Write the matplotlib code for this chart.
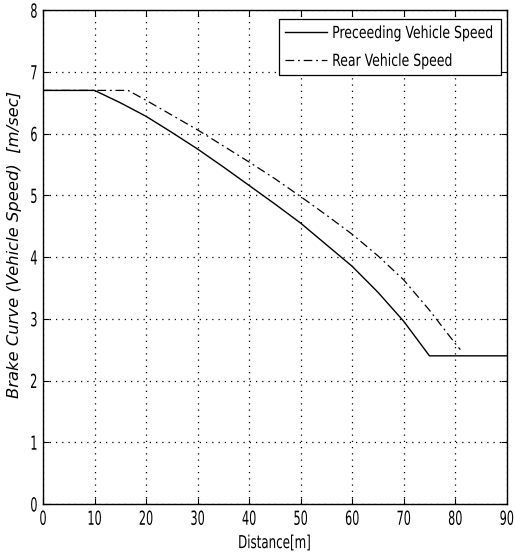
import matplotlib.pyplot as plt
from matplotlib import font_manager
from matplotlib.patheffects import AbstractPathEffect
from matplotlib.transforms import Affine2D

# distance [m] and speed [m/sec]
x_pre = [0, 10, 15, 20, 25, 30, 35, 40, 45, 50, 55, 60, 65, 70, 75, 90]
v_pre = [6.7, 6.7, 6.5, 6.28, 6.02, 5.75, 5.46, 5.16, 4.86, 4.55, 4.2, 3.85, 3.43, 2.96, 2.4, 2.4]

x_rear = [0, 16.5, 20, 25, 30, 35, 40, 45, 50, 55, 60, 65, 70, 75, 80, 81]
v_rear = [6.7, 6.7, 6.54, 6.3, 6.06, 5.8, 5.54, 5.27, 4.98, 4.68, 4.37, 4.02, 3.63, 3.14, 2.6, 2.5]

xticks = list(range(0, 91, 10))
yticks = list(range(0, 9))


class Tall(AbstractPathEffect):
    # stretch glyphs vertically around mid cap height, to get the tall narrow look
    def __init__(self, sy):
        super().__init__()
        self.sy = sy

    def draw_path(self, renderer, gc, tpath, affine, rgbFace=None):
        st = Affine2D().translate(0, -36).scale(1, self.sy).translate(0, 36)
        renderer.draw_path(gc, tpath, st + affine, rgbFace)


names = {f.name for f in font_manager.fontManager.ttflist}
narrow = 'Liberation Sans Narrow' if 'Liberation Sans Narrow' in names else 'DejaVu Sans'
tickfont = font_manager.FontProperties(family=narrow, stretch='condensed', size=9)
legfont = font_manager.FontProperties(family=narrow, stretch='condensed', size=10)
labfont = font_manager.FontProperties(family=narrow, stretch='condensed', size=9.5)

fig = plt.figure(figsize=(5.15, 5.58), dpi=100)
ax = fig.add_axes([0.0835, 0.0968, 0.9005, 0.885])

ax.plot(x_pre, v_pre, color='black', lw=1.0, ls='-', label='Preceeding Vehicle Speed')
ax.plot(x_rear, v_rear, color='black', lw=0.9, ls=(0, (7, 3, 1.5, 3)), label='Rear Vehicle Speed')

ax.set_xlim(0, 90)
ax.set_ylim(0, 8)
ax.set_xticks(xticks)
ax.set_yticks(yticks)
ax.grid(True, color='black', ls=(0, (1, 4)), lw=0.9)
ax.tick_params(direction='in', top=True, right=True, length=4)
ax.tick_params(axis='x', pad=6)
ax.tick_params(axis='y', pad=4)
for lab in ax.get_xticklabels() + ax.get_yticklabels():
    lab.set_fontproperties(tickfont)
    lab.set_path_effects([Tall(1.55)])
for s in ax.spines.values():
    s.set_linewidth(1.0)

xl = ax.set_xlabel('Distance[m]', fontproperties=labfont, labelpad=8)
xl.set_path_effects([Tall(1.35)])
ax.set_ylabel('Brake Curve (Vehicle Speed)  [m/sec]', fontsize=11.8, style='italic')
ax.yaxis.set_label_coords(-0.045, 0.526)

leg = ax.legend(loc='upper right', bbox_to_anchor=(0.987, 0.982), prop=legfont, fancybox=False,
                framealpha=1, edgecolor='black', handlelength=3.0, handletextpad=0.36,
                borderaxespad=0, borderpad=0.5, labelspacing=1.0)
leg.get_frame().set_linewidth(0.9)
for t in leg.get_texts():
    t.set_path_effects([Tall(1.2)])

fig.savefig('out.png', dpi=100)
